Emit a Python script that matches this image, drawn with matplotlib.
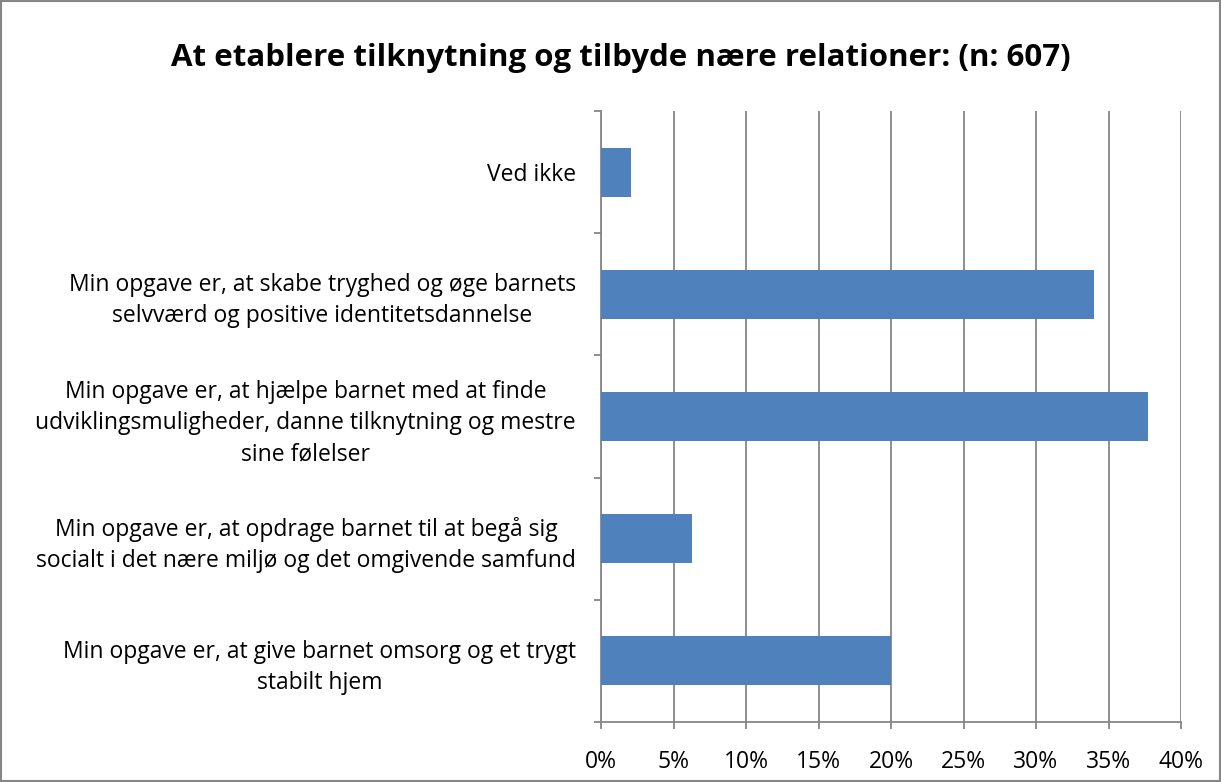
import matplotlib.pyplot as plt
from matplotlib.ticker import FixedLocator, PercentFormatter
from matplotlib.patches import Rectangle

plt.rcParams['font.family'] = ['Open Sans', 'DejaVu Sans']

categories = [
    "Min opgave er, at give barnet omsorg og et trygt\nstabilt hjem",
    "Min opgave er, at opdrage barnet til at begå sig\nsocialt i det nære miljø og det omgivende samfund",
    "Min opgave er, at hjælpe barnet med at finde\nudviklingsmuligheder, danne tilknytning og mestre\nsine følelser",
    "Min opgave er, at skabe tryghed og øge barnets\nselvværd og positive identitetsdannelse",
    "Ved ikke",
]
values = [20.0, 6.3, 37.7, 34.0, 2.1]
xticks = [0, 5, 10, 15, 20, 25, 30, 35, 40]

fig = plt.figure(figsize=(12.21, 7.82), dpi=100)
ax = fig.add_axes([601/1221, 60/782, 580/1221, 611/782])

grid_col = '#868686'
ax.barh(range(len(values)), values, height=0.4, color='#4f81bd', zorder=3)

ax.set_xlim(0, 40)
ax.set_ylim(-0.5, len(values) - 0.5)
ax.set_xticks(xticks)
ax.xaxis.set_major_formatter(PercentFormatter(decimals=0))
ax.grid(axis='x', color=grid_col, linewidth=1.3, zorder=0)

ax.yaxis.set_major_locator(FixedLocator([i - 0.5 for i in range(len(values) + 1)]))
ax.yaxis.set_major_formatter(plt.NullFormatter())
ax.set_yticks(range(len(values)), minor=True)
ax.set_yticklabels(categories, minor=True, fontsize=16.5, multialignment='center',
                   linespacing=1.4)
ax.tick_params(axis='y', which='minor', length=0, pad=18)
ax.tick_params(axis='y', which='major', length=5, color=grid_col, width=1.3)
ax.tick_params(axis='x', length=5, color=grid_col, width=1.3, labelsize=16.5, pad=15)

for s in ['top', 'right']:
    ax.spines[s].set_visible(False)
for s in ['left', 'bottom']:
    ax.spines[s].set_color(grid_col)
    ax.spines[s].set_linewidth(1.3)

fig.suptitle('At etablere tilknytning og tilbyde nære relationer: (n: 607)',
             fontsize=22.5, fontweight='bold', x=621/1221, y=1 - 58/782, va='center')

fig.patches.append(Rectangle((0.001, 0.001), 0.998, 0.998, transform=fig.transFigure,
                             fill=False, edgecolor=grid_col, linewidth=1.5))

fig.savefig('out.png', dpi=100)
